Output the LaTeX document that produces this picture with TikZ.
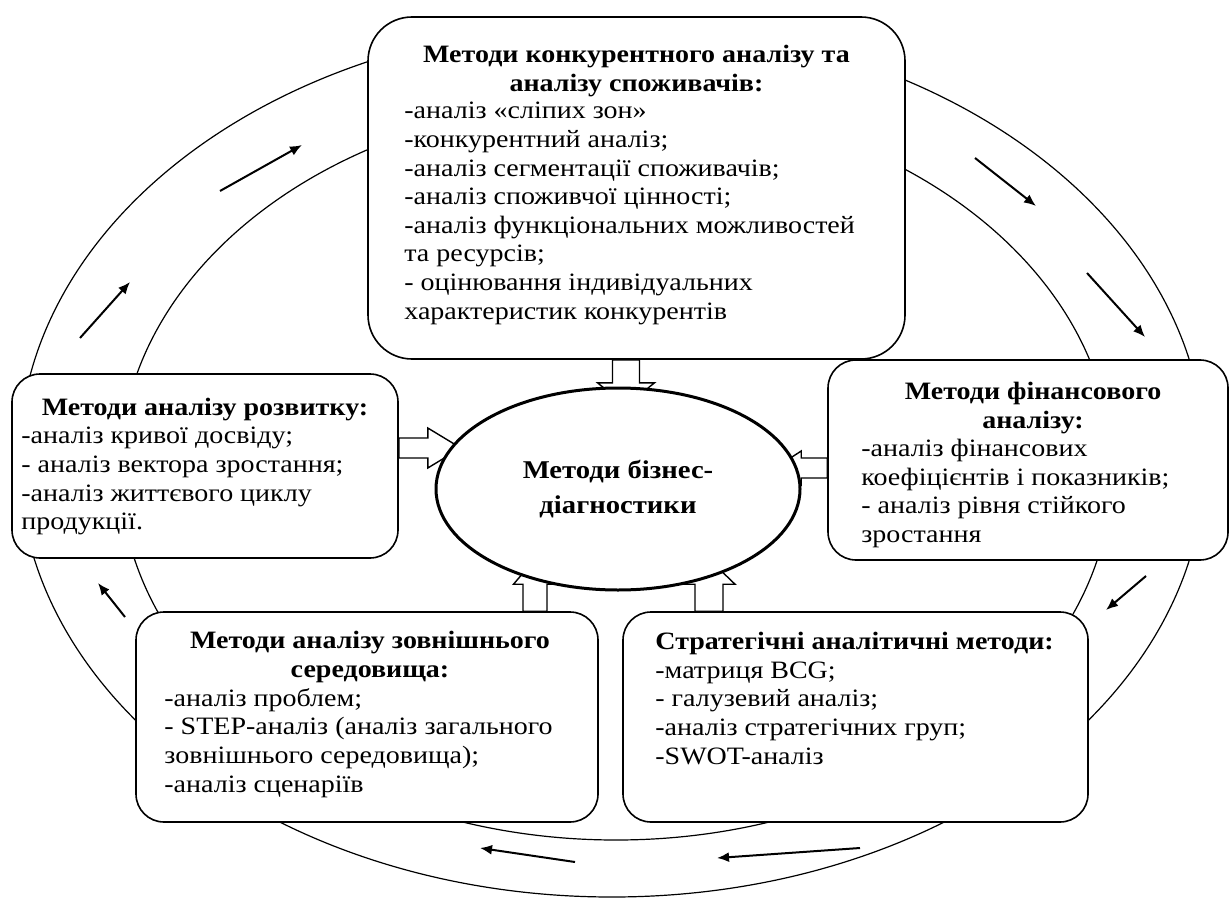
\documentclass[tikz,border=0pt]{standalone}
\usepackage{fontspec}
\setmainfont{Liberation Serif}[FakeStretch=1.12]
\usetikzlibrary{arrows.meta,shapes.geometric}
\tikzset{pics/harrow/.style n args={4}{code={%
  \draw[hollow] (0,-#2) -- (#1-#4,-#2) -- (#1-#4,-#3) -- (#1,0) -- (#1-#4,#3) -- (#1-#4,#2) -- (0,#2) -- cycle;}}}
\begin{document}
\begin{tikzpicture}[x=0.5pt,y=-0.5pt,
  box/.style={draw=black, line width=0.8pt, fill=white, rounded corners=14pt, inner sep=0},
  ring/.style={draw=black, line width=0.6pt},
  flow/.style={line width=1pt, -{Latex[length=6pt,width=5pt]}},
  hollow/.style={draw=black, line width=0.7pt, fill=white},
  ttl/.style={inner sep=0, anchor=north, align=center, font=\fontsize{12.5}{14.3}\selectfont\bfseries},
  body/.style={inner sep=0, anchor=north west, align=left, font=\fontsize{12.5}{14.3}\selectfont}]
\useasboundingbox (0,0) rectangle (1229,898);
% rings
\draw[ring] (612,460) ellipse [x radius=593, y radius=437];
\draw[ring] (616,470) ellipse [x radius=496, y radius=370];
% flow arrows on the ring
\coordinate (a1s) at (80,338);   \coordinate (a1e) at (130,282);
\coordinate (a2s) at (220,191);  \coordinate (a2e) at (302,145);
\coordinate (a3s) at (975,158);  \coordinate (a3e) at (1036,206);
\coordinate (a4s) at (1087,273); \coordinate (a4e) at (1145,337);
\coordinate (a5s) at (1146,576); \coordinate (a5e) at (1106,610);
\coordinate (a6s) at (860,848);  \coordinate (a6e) at (717,858);
\coordinate (a7s) at (575,862);  \coordinate (a7e) at (480,848);
\coordinate (a8s) at (125,617);  \coordinate (a8e) at (98,583);
\foreach \i in {1,...,8} \draw[flow] (a\i s) -- (a\i e);
% boxes
\node[box, rounded corners=22pt, minimum width=268.5pt, minimum height=171pt] (T) at (636.5,188) {};
\node[box, minimum width=193pt, minimum height=92pt] (L) at (205,466) {};
\node[box, minimum width=200pt, minimum height=100pt] (R) at (1028,460) {};
\node[box, minimum width=231pt, minimum height=105pt] (BL) at (367,717) {};
\node[box, minimum width=232.5pt, minimum height=105pt] (BR) at (855.5,717) {};
% hollow arrows
\pic[rotate=-90] (hT) at (T.south -| 626,0) {harrow={46}{13.5}{28.5}{23}};
\pic (hL) at (L.east |- 0,448) {harrow={62}{10}{20}{33}};
\pic[rotate=180] (hR) at (R.west |- 0,468) {harrow={52}{10}{17}{26}};
\pic[rotate=90] (hBL) at (BL.north -| 535,0) {harrow={52}{12}{21.5}{25}};
\pic[rotate=90] (hBR) at (BR.north -| 709,0) {harrow={52}{14}{26}{25}};
% central ellipse
\node[draw=black, line width=1.5pt, fill=white, ellipse, minimum width=182pt, minimum height=101pt, inner sep=0] (C) at (618,489) {};
\node[inner sep=0, anchor=north, align=center, font=\fontsize{12.8}{17.5}\selectfont\bfseries] (Ct) at (618,460) {Методи бізнес-\\діагностики};
% texts
\node[ttl] (Tt) at (636.5,45) {Методи конкурентного аналізу та\\аналізу споживачів:};
\node[body] (Tb) at (404,102) {-аналіз «сліпих зон»\\-конкурентний аналіз;\\-аналіз сегментації споживачів;\\-аналіз споживчої цінності;\\-аналіз функціональних можливостей\\та ресурсів;\\- оцінювання індивідуальних\\характеристик конкурентів};
\node[ttl] (Lt) at (205,398) {Методи аналізу розвитку:};
\node[body] (Lb) at (21,427) {-аналіз кривої досвіду;\\- аналіз вектора зростання;\\-аналіз життєвого циклу\\продукції.};
\node[ttl] (Rt) at (1033,382) {Методи фінансового\\аналізу:};
\node[body] (Rb) at (861,439) {-аналіз фінансових\\коефіцієнтів і показників;\\- аналіз рівня стійкого\\зростання};
\node[ttl] (BLt) at (370,631) {Методи аналізу зовнішнього\\середовища:};
\node[body] (BLb) at (164,688) {-аналіз проблем;\\- STEP-аналіз (аналіз загального\\зовнішнього середовища);\\-аналіз сценаріїв};
\node[body] (BRb) at (655,632) {\textbf{Стратегічні аналітичні методи:}\\-матриця BCG;\\- галузевий аналіз;\\-аналіз стратегічних груп;\\-SWOT-аналіз};
\end{tikzpicture}
\end{document}
